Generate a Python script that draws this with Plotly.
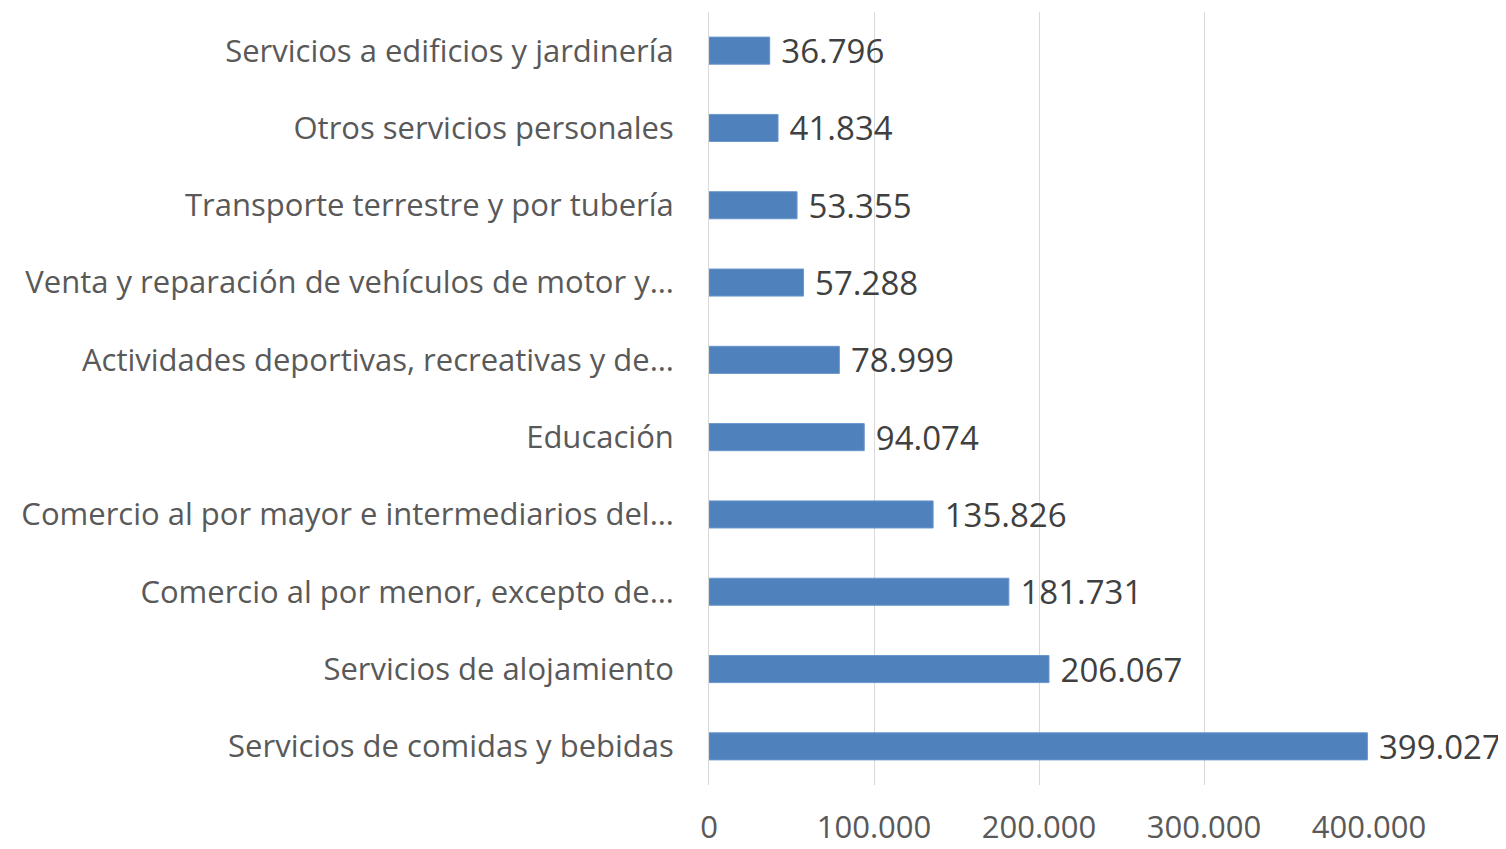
import plotly.graph_objects as go

categories = [
    "Servicios de comidas y bebidas",
    "Servicios de alojamiento",
    "Comercio al por menor, excepto de…",
    "Comercio al por mayor e intermediarios del…",
    "Educación",
    "Actividades deportivas, recreativas y de…",
    "Venta y reparación de vehículos de motor y…",
    "Transporte terrestre y por tubería",
    "Otros servicios personales",
    "Servicios a edificios y jardinería",
]
values = [399027, 206067, 181731, 135826, 94074, 78999, 57288, 53355, 41834, 36796]
tick_vals = [0, 100000, 200000, 300000, 400000]

FONT = "Open Sans, sans-serif"

fig = go.Figure(
    go.Bar(
        y=categories,
        x=values,
        orientation="h",
        marker=dict(color="#4f81bd", line=dict(color="#6a96cc", width=1)),
        texttemplate="\u00a0%{x:,d}",
        textposition="outside",
        constraintext="none",
        textfont=dict(family=FONT, size=33, color="#404040"),
        cliponaxis=False,
    )
)

# page body has an 8px default margin, so the figure is sized/offset to compensate
fig.update_layout(
    width=1498,
    height=841,
    margin=dict(l=701, r=137, t=4, b=64),
    paper_bgcolor="white",
    plot_bgcolor="white",
    separators=",.",
    bargap=0.65,
    showlegend=False,
    xaxis=dict(
        range=[0, 400000],
        tickvals=tick_vals,
        tickformat=",d",
        showgrid=True,
        gridcolor="#d9d9d9",
        gridwidth=1,
        zeroline=False,
        showline=False,
        ticks="",
        automargin=False,
        ticklabelstandoff=21,
        tickfont=dict(family=FONT, size=31, color="#595959"),
    ),
    yaxis=dict(
        showgrid=False,
        showline=True,
        linecolor="#d9d9d9",
        linewidth=1,
        ticks="",
        automargin=False,
        ticklabelstandoff=28,
        tickfont=dict(family=FONT, size=31, color="#595959"),
    ),
)

fig.write_html("out.html")
